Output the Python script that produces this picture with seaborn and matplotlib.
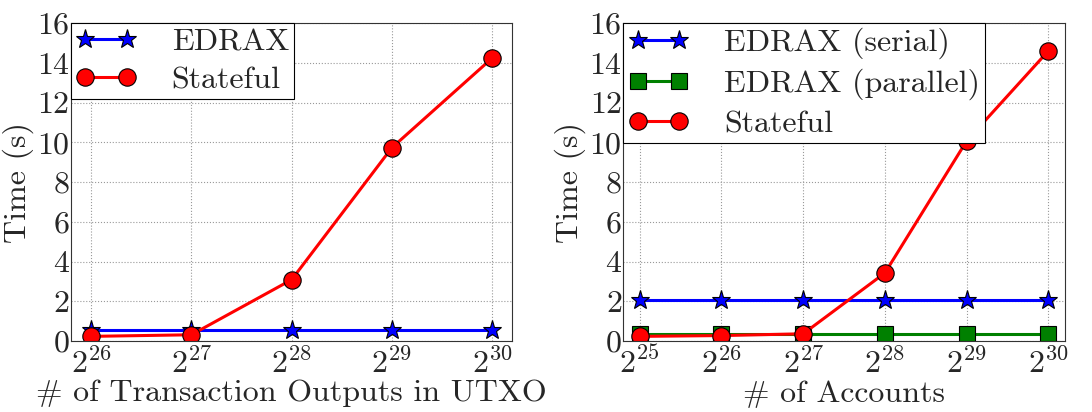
import pandas as pd
import seaborn as sns
import matplotlib.pyplot as plt

# --- data ---
utxo_sizes = [2**26, 2**27, 2**28, 2**29, 2**30]
utxo_edrax = [0.55, 0.55, 0.55, 0.55, 0.55]
utxo_stateful = [0.24, 0.32, 3.09, 9.73, 14.24]

acct_sizes = [2**25, 2**26, 2**27, 2**28, 2**29, 2**30]
acct_edrax_serial = [2.08, 2.08, 2.08, 2.08, 2.08, 2.08]
acct_edrax_parallel = [0.38, 0.38, 0.38, 0.38, 0.38, 0.38]
acct_stateful = [0.24, 0.28, 0.37, 3.43, 10.07, 14.6]

# --- style ---
sns.set_style('whitegrid', {'grid.linestyle': ':', 'grid.color': '#999999',
                            'axes.edgecolor': '#333333'})
plt.rcParams['font.family'] = ['cmr10', 'DejaVu Serif']
plt.rcParams['mathtext.fontset'] = 'cm'
plt.rcParams['axes.formatter.use_mathtext'] = True
fs = 23
plt.rcParams['font.size'] = fs

fig, axes = plt.subplots(1, 2, figsize=(10.92, 4.12), dpi=100)

stili = {
    'EDRAX': dict(color='blue', marker='*', markersize=14),
    'EDRAX (serial)': dict(color='blue', marker='*', markersize=14),
    'EDRAX (parallel)': dict(color='green', marker='s', markersize=11.5),
    'Stateful': dict(color='red', marker='o', markersize=12.5),
}

def disegna(ax, x, serie, xlabel, xlim):
    for nome, valori in serie:
        st = stili[nome]
        sns.lineplot(x=x, y=valori, ax=ax, label=nome, color=st['color'],
                     marker=st['marker'], markersize=st['markersize'],
                     markeredgecolor='black', markeredgewidth=0.8,
                     linewidth=2.2)
    ax.set_xscale('log', base=2)
    ax.set_xticks(x)
    ax.set_xlim(*xlim)
    ax.set_ylim(0, 16)
    ax.set_yticks(range(0, 17, 2))
    ax.set_xlabel(xlabel, fontsize=fs, labelpad=1)
    ax.set_ylabel('Time (s)', fontsize=fs, labelpad=2)
    ax.tick_params(axis='both', labelsize=fs, length=0, pad=1)
    ax.tick_params(axis='x', pad=4)
    leg = ax.legend(loc='upper left', fontsize=fs, frameon=True, fancybox=False,
                    framealpha=1, edgecolor='black', borderpad=0.15,
                    handlelength=1.9, handletextpad=1.1, labelspacing=0.3,
                    borderaxespad=0.0, numpoints=2)
    leg.get_frame().set_linewidth(0.8)

disegna(axes[0], utxo_sizes,
        [('EDRAX', utxo_edrax), ('Stateful', utxo_stateful)],
        '# of Transaction Outputs in UTXO', (2**25.8, 2**30.2))
disegna(axes[1], acct_sizes,
        [('EDRAX (serial)', acct_edrax_serial),
         ('EDRAX (parallel)', acct_edrax_parallel),
         ('Stateful', acct_stateful)],
        '# of Accounts', (2**24.8, 2**30.2))

plt.subplots_adjust(left=0.065, right=0.975, top=0.944, bottom=0.172, wspace=0.252)
plt.savefig('out.png', dpi=100)
